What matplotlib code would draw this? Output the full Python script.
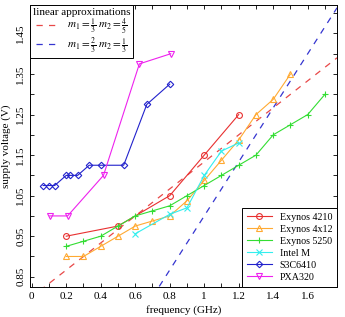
import numpy as np
import matplotlib
matplotlib.use('Agg')
import matplotlib.pyplot as plt

plt.rcParams['font.family'] = ['Liberation Serif', 'DejaVu Serif']
plt.rcParams['mathtext.fontset'] = 'stix'

# frequency (GHz) / supply voltage (V)
f_4210 = [0.2, 0.5, 0.8, 1.0, 1.2]
v_4210 = [0.95, 0.975, 1.05, 1.15, 1.25]

f_4x12 = [0.2, 0.3, 0.4, 0.5, 0.6, 0.7, 0.8, 0.9, 1.0, 1.1, 1.2, 1.3, 1.4, 1.5]
v_4x12 = [0.9, 0.9, 0.925, 0.95, 0.975, 0.9875, 1.0, 1.0375, 1.0875, 1.1375, 1.1875, 1.25, 1.2875, 1.35]

f_5250 = [0.2, 0.3, 0.4, 0.5, 0.6, 0.7, 0.8, 0.9, 1.0, 1.1, 1.2, 1.3, 1.4, 1.5, 1.6, 1.7]
v_5250 = [0.925, 0.9375, 0.95, 0.975, 1.0, 1.0125, 1.025, 1.05, 1.075, 1.1, 1.125, 1.15, 1.2, 1.225, 1.25, 1.3]

f_intel = [0.6, 0.8, 0.9, 1.0, 1.1, 1.2]
v_intel = [0.956, 1.004, 1.02, 1.1, 1.16, 1.18]

f_s3c = [0.066, 0.1, 0.133, 0.2, 0.222, 0.266, 0.333, 0.4, 0.533, 0.667, 0.8]
v_s3c = [1.075, 1.075, 1.075, 1.1, 1.1, 1.1, 1.125, 1.125, 1.125, 1.275, 1.325]

f_pxa = [0.104, 0.208, 0.416, 0.624, 0.806]
v_pxa = [1.0, 1.0, 1.1, 1.375, 1.4]

xticks = [0, 0.2, 0.4, 0.6, 0.8, 1.0, 1.2, 1.4, 1.6]
xticklabels = ['0', '0.2', '0.4', '0.6', '0.8', '1', '1.2', '1.4', '1.6']
yticks = [0.85, 0.95, 1.05, 1.15, 1.25, 1.35, 1.45]

# linear approximations v = m1*f + m2
approx = [(1/3, 4/5, '#e84848', r'$m_1 = \frac{1}{3}\ m_2 = \frac{4}{5}$'),
          (2/3, 1/3, '#3535d0', r'$m_1 = \frac{2}{3}\ m_2 = \frac{1}{3}$')]

fig = plt.figure(figsize=(3.45, 3.17), dpi=100)
ax = fig.add_axes([0.087, 0.095, 0.89, 0.889])

ff = np.linspace(-0.01, 1.77, 50)
hl = []
for m1, m2, c, lab in approx:
    h, = ax.plot(ff, m1 * ff + m2, '--', color=c, lw=0.9, dashes=(5, 5), label=lab)
    hl.append(h)

series = [(f_4210, v_4210, '#e83030', 'o', 'Exynos 4210'),
          (f_4x12, v_4x12, '#ffaa33', '^', 'Exynos 4x12'),
          (f_5250, v_5250, '#33dd33', '+', 'Exynos 5250'),
          (f_intel, v_intel, '#33eeee', 'x', 'Intel M'),
          (f_s3c, v_s3c, '#2222cc', 'D', 'S3C6410'),
          (f_pxa, v_pxa, '#ee22ee', 'v', 'PXA320')]
hs = []
for f, v, c, m, lab in series:
    ms = 5 if m in '+x' else (3.3 if m == 'D' else 4.2)
    h, = ax.plot(f, v, '-', color=c, lw=0.8, marker=m, ms=ms, mfc='none', mew=0.8, label=lab)
    hs.append(h)

ax.set_xlim(-0.01, 1.77)
ax.set_ylim(0.825, 1.52)
ax.set_xticks(xticks)
ax.set_xticklabels(xticklabels)
ax.set_xticks(np.arange(0.1, 1.75, 0.2), minor=True)
ax.set_yticks(yticks)
ax.set_yticks(np.arange(0.9, 1.55, 0.1), minor=True)
ax.tick_params(which='both', direction='in', top=True, right=True, length=3, width=0.6, labelsize=8)
for lbl in ax.get_yticklabels():
    lbl.set_rotation(90)
    lbl.set_va('center')
ax.set_xlabel('frequency (GHz)', fontsize=8, labelpad=3)
ax.set_ylabel('supply voltage (V)', fontsize=8, labelpad=4)
for s in ax.spines.values():
    s.set_linewidth(0.7)

leg1 = ax.legend(handles=hl, loc='upper left', title='linear approximations', fontsize=8,
                 title_fontsize=8, borderaxespad=0, fancybox=False, edgecolor='black',
                 framealpha=1, handlelength=2.0, handletextpad=0.8, labelspacing=0.0,
                 borderpad=0.25)
leg1.get_frame().set_linewidth(0.7)
ax.add_artist(leg1)
leg2 = ax.legend(handles=hs, loc='lower right', fontsize=7.2, borderaxespad=0, fancybox=False,
                 edgecolor='black', framealpha=1, handlelength=2.5, labelspacing=0.3,
                 borderpad=0.5)
leg2.get_frame().set_linewidth(0.7)

plt.savefig('out.png', dpi=100)
